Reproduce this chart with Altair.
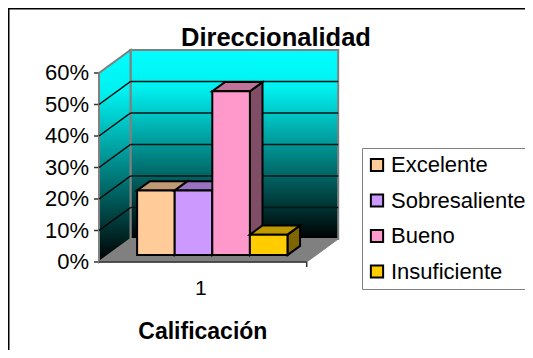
import altair as alt
import pandas as pd

# values
categories = ["Excelente", "Sobresaliente", "Bueno", "Insuficiente"]
values = [0.205, 0.205, 0.52, 0.065]
colors = ["#FFCC99", "#CC99FF", "#FF99CC", "#FFCC00"]
top_colors = ["#BF9973", "#9973BF", "#BF7399", "#BF9900"]
side_colors = ["#806650", "#664D80", "#804D66", "#806600"]
y_ticks = [0, 0.1, 0.2, 0.3, 0.4, 0.5, 0.6]
y_tick_labels = ["0%", "10%", "20%", "30%", "40%", "50%", "60%"]
wall_levels = [0.1, 0.2, 0.3, 0.4, 0.5]
category_label = "1"
axis_title = "Calificación"

W, H = 517, 342
PX_X0, PX_Y0 = 91, 254      # front floor corner inside the svg
X_UNIT = 207.7              # px for the full category width
Y_UNIT = 315.0              # px for 100 %
DX = 31.5 / X_UNIT          # oblique shift of full depth
DY = 23.0 / Y_UNIT
MAX = 0.6
D0, D1 = 0.30, 0.70         # bar depth extent
BAR_START, BAR_W = 0.138, 0.181
TICK_X = 5 / X_UNIT
TICK_Y = 5 / Y_UNIT

x_scale = alt.Scale(domain=[-PX_X0 / X_UNIT, (W - PX_X0) / X_UNIT], nice=False, zero=False)
y_scale = alt.Scale(domain=[(PX_Y0 - H) / Y_UNIT, PX_Y0 / Y_UNIT], nice=False, zero=False)

FONT = "Liberation Sans"
X = lambda f, **k: alt.X(f, type="quantitative", scale=x_scale, axis=None, **k)
Y = lambda f, **k: alt.Y(f, type="quantitative", scale=y_scale, axis=None, **k)

gradient = alt.Gradient(
    gradient="linear", x1=0, x2=0, y1=0, y2=1,
    stops=[alt.GradientStop(offset=0, color="#00FFFF"),
           alt.GradientStop(offset=0.2, color="#00F0F0"),
           alt.GradientStop(offset=1, color="#000000")],
)

# outer frame: left and top edges only
frame_left = alt.Chart(pd.DataFrame({"a": [0]})).mark_rule(color="#000000", strokeWidth=3).encode(
    x=alt.value(0), y=alt.value(0), y2=alt.value(H))
frame_top = alt.Chart(pd.DataFrame({"a": [0]})).mark_rule(color="#000000", strokeWidth=3).encode(
    y=alt.value(0), x=alt.value(0), x2=alt.value(W))

# value axis: ticks and labels
tick_df = pd.DataFrame({"y": y_ticks, "label": y_tick_labels, "x": 0.0, "x2": -TICK_X})
y_axis_ticks = alt.Chart(tick_df).mark_rule(color="#333333", strokeWidth=1.5).encode(
    X("x"), x2="x2", y=Y("y"))
y_axis_labels = alt.Chart(tick_df).mark_text(
    font=FONT, fontSize=22, color="#000000", align="right", baseline="middle", dx=-5
).encode(X("x2"), y=Y("y"), text="label:N")

# category axis label and title
cat_label = alt.Chart(pd.DataFrame({"x": [0.49], "y": [-0.087], "t": [category_label]})).mark_text(
    font=FONT, fontSize=21, color="#000000", align="center", baseline="middle"
).encode(X("x"), y=Y("y"), text="t:N")
cat_title = alt.Chart(pd.DataFrame({"x": [0.5], "y": [-0.222], "t": [axis_title]})).mark_text(
    font=FONT, fontSize=23, fontWeight="bold", color="#000000", align="center", baseline="middle"
).encode(X("x"), y=Y("y"), text="t:N")

# back wall
back = alt.Chart(pd.DataFrame([{"x": DX, "x2": 1 + DX, "y": DY, "y2": MAX + DY}])).mark_rect(
    fill=gradient, stroke="#808080", strokeWidth=2
).encode(X("x"), x2="x2", y=Y("y"), y2="y2")

# side wall
side = alt.Chart(pd.DataFrame([
    {"x": 0, "y": 0, "y2": MAX}, {"x": DX, "y": DY, "y2": MAX + DY}
])).mark_area(fill=gradient, stroke="#808080", strokeWidth=2, opacity=1).encode(X("x"), y=Y("y"), y2="y2")

# floor
floor = alt.Chart(pd.DataFrame([
    {"y": 0, "x": 0, "x2": 1}, {"y": DY, "x": DX, "x2": 1 + DX}
])).mark_area(orient="horizontal", fill="#808080", stroke="#808080", strokeWidth=1, opacity=1).encode(
    X("x"), x2="x2", y=Y("y"))

# grid on the back wall
grid_back = alt.Chart(pd.DataFrame({"level": wall_levels}).assign(
    x=DX, x2=1 + DX, y=lambda d: d.level + DY
)).mark_rule(color="#001414", strokeWidth=1.5).encode(X("x"), x2="x2", y=Y("y"))

# grid on the side wall
grid_rows = []
for level in wall_levels:
    grid_rows.append({"level": level, "x": 0, "y": level})
    grid_rows.append({"level": level, "x": DX, "y": level + DY})
grid_side = alt.Chart(pd.DataFrame(grid_rows)).mark_line(color="#000000", strokeWidth=1.5).encode(
    X("x"), y=Y("y"), detail="level:N")

# base line and end tick of the floor
base = alt.Chart(pd.DataFrame({"x": [0], "x2": [1], "y": [0]})).mark_rule(color="#333333", strokeWidth=1.5).encode(
    X("x"), x2="x2", y=Y("y"))
end_ticks = alt.Chart(pd.DataFrame({"x": [1], "y": [0], "y2": [-TICK_Y]})).mark_rule(color="#333333", strokeWidth=1.5).encode(
    X("x"), y=Y("y"), y2="y2")

color_scale = alt.Scale(domain=categories, range=colors)
legend = alt.Legend(
    title=None, orient="none", legendX=354, legendY=140, fillColor="#FFFFFF", strokeColor="#808080",
    padding=6, symbolType="square", symbolSize=150, symbolStrokeColor="#000000", symbolStrokeWidth=2,
    labelFont=FONT, labelFontSize=22, labelColor="#000000", rowPadding=13.5, labelOffset=3,
    symbolOffset=-2, symbolOpacity=1, labelLimit=300,
)

layers = [frame_left, frame_top, y_axis_ticks, y_axis_labels, cat_label, cat_title,
          back, side, floor, grid_back, grid_side, base, end_ticks]
for i, (cat, v) in enumerate(zip(categories, values)):
    x0 = BAR_START + i * BAR_W + D0 * DX
    x1 = x0 + BAR_W
    y0 = D0 * DY
    sx, sy = (D1 - D0) * DX, (D1 - D0) * DY
    side_face = alt.Chart(pd.DataFrame([
        {"x": x1, "y": y0, "y2": y0 + v}, {"x": x1 + sx, "y": y0 + sy, "y2": y0 + v + sy}
    ])).mark_area(fill=side_colors[i], stroke="#000000", strokeWidth=2, opacity=1).encode(
        X("x"), y=Y("y"), y2="y2")
    top_face = alt.Chart(pd.DataFrame([
        {"y": y0 + v, "x": x0, "x2": x1}, {"y": y0 + v + sy, "x": x0 + sx, "x2": x1 + sx}
    ])).mark_area(orient="horizontal", fill=top_colors[i], stroke="#000000", strokeWidth=2, opacity=1).encode(
        X("x"), x2="x2", y=Y("y"))
    front_face = alt.Chart(pd.DataFrame([
        {"cat": cat, "x": x0, "x2": x1, "y": y0, "y2": y0 + v}
    ])).mark_rect(stroke="#000000", strokeWidth=2, opacity=1).encode(
        X("x"), x2="x2", y=Y("y"), y2="y2",
        color=alt.Color("cat:N", scale=color_scale, legend=legend, sort=categories))
    layers += [side_face, top_face, front_face]

chart = alt.layer(*layers).properties(
    width=W, height=H, padding=0, autosize=alt.AutoSizeParams(type="none"),
    title=alt.TitleParams(
        "Direccionalidad", font=FONT, fontSize=25.5, fontWeight="bold", color="#000000",
        anchor="start", frame="group", dx=173, dy=45, offset=0,
    ),
).configure_view(stroke=None)

chart.save("out.html", embed_options={"renderer": "svg", "actions": False})
